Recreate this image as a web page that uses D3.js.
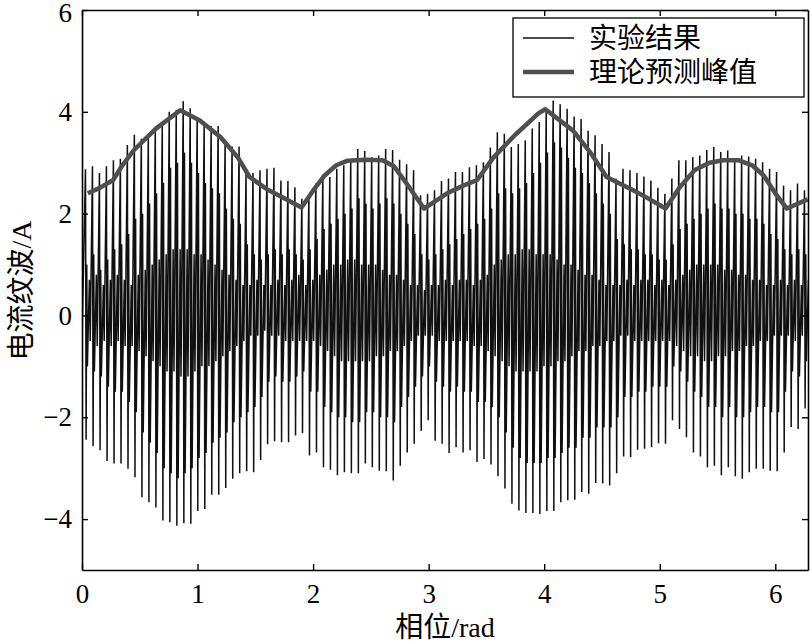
<!DOCTYPE html>
<html>
<head>
<meta charset="utf-8">
<script src="https://cdn.jsdelivr.net/npm/d3@7"></script>
<style>
  html, body { margin: 0; padding: 0; background: #fff; }
  svg { display: block; }
</style>
</head>
<body>
<svg id="chart" width="810" height="643"></svg>
<script>
// ---------------- data ----------------
// Per switching cycle of the measured current ripple (A):
// main positive peak, main negative peak, the adjacent secondary peaks,
// and the small excursion between two main spikes.
const ripplePeakHigh = [
  2.87, 2.93, 2.80, 2.93, 3.05, 3.08, 3.35, 3.55, 3.47, 3.52,
  3.68, 3.78, 4.00, 4.03, 4.21, 4.07, 3.90, 3.80, 3.72, 3.72,
  3.40, 3.32, 3.32, 2.80, 2.80, 2.85, 2.88, 2.90, 2.65, 2.64,
  2.52, 2.29, 2.36, 2.59, 2.75, 2.72, 2.88, 2.95, 3.05, 3.27,
  3.23, 3.11, 3.14, 3.27, 3.25, 3.06, 2.97, 2.85, 2.36, 2.39,
  2.46, 2.64, 2.69, 2.82, 2.82, 2.91, 2.95, 3.01, 3.30, 3.60,
  3.57, 3.31, 3.37, 3.44, 3.67, 3.80, 4.03, 4.22, 4.15, 4.06,
  3.91, 3.86, 3.63, 3.54, 3.37, 3.21, 2.69, 2.88, 2.85, 2.80,
  2.73, 2.65, 2.51, 2.39, 2.69, 3.05, 3.05, 3.11, 3.14, 3.25,
  3.31, 3.21, 3.24, 3.05, 3.14, 3.12, 3.08, 3.01, 2.88, 2.82,
  2.55, 2.46, 2.59, 2.46
];
const ripplePeakLow = [
  -2.44, -2.57, -2.65, -2.86, -2.91, -2.91, -3.01, -3.18, -3.57, -3.67,
  -3.77, -4.03, -4.06, -4.13, -4.08, -4.09, -3.84, -3.80, -3.52, -3.52,
  -3.39, -3.21, -3.10, -3.06, -3.08, -2.84, -2.53, -2.47, -2.49, -2.49,
  -2.36, -2.31, -2.75, -2.69, -2.98, -3.03, -3.14, -3.08, -3.10, -3.10,
  -2.91, -2.98, -3.05, -3.06, -3.24, -2.95, -2.69, -2.52, -2.27, -2.06,
  -2.46, -2.52, -2.70, -2.59, -2.69, -2.65, -2.88, -2.82, -2.93, -3.16,
  -3.40, -3.70, -3.83, -3.88, -3.88, -3.90, -3.84, -3.84, -3.67, -3.63,
  -3.62, -3.47, -3.50, -3.29, -3.30, -3.34, -3.10, -2.77, -2.78, -2.64,
  -2.62, -2.59, -2.51, -2.52, -2.06, -2.23, -2.39, -2.69, -2.77, -2.98,
  -2.95, -3.14, -2.98, -3.16, -3.21, -3.08, -3.01, -3.01, -3.05, -3.06,
  -2.69, -2.19, -2.23, -1.83
];
const rippleInnerHigh = [
  1.0, 1.2, 0.9, 1.1, 1.3, 1.4, 1.6, 1.9, 2.0, 2.2,
  2.4, 2.6, 2.9, 3.0, 3.2, 3.0, 2.8, 2.6, 2.5, 2.4,
  2.1, 1.9, 1.8, 1.4, 1.2, 1.1, 1.2, 1.3, 1.2, 1.3,
  1.2, 1.1, 1.3, 1.5, 1.7, 1.8, 1.9, 2.0, 2.1, 2.3,
  2.2, 2.1, 2.2, 2.3, 2.2, 2.0, 1.8, 1.6, 1.2, 1.1,
  1.2, 1.3, 1.4, 1.5, 1.6, 1.7, 1.8, 1.9, 2.1, 2.4,
  2.5, 2.4, 2.5, 2.6, 2.8, 3.0, 3.2, 3.4, 3.3, 3.1,
  2.9, 2.8, 2.6, 2.4, 2.2, 2.0, 1.5, 1.4, 1.3, 1.3,
  1.2, 1.2, 1.1, 1.1, 1.4, 1.7, 1.8, 1.9, 2.0, 2.1,
  2.2, 2.1, 2.1, 2.0, 2.0, 1.9, 1.9, 1.8, 1.6, 1.5,
  1.3, 1.2, 1.3, 1.2
];
const rippleInnerLow = [
  -1.0, -1.1, -1.2, -1.4, -1.5, -1.5, -1.7, -1.9, -2.3, -2.5,
  -2.7, -3.0, -3.1, -3.2, -3.1, -3.0, -2.8, -2.7, -2.5, -2.4,
  -2.3, -2.1, -2.0, -1.9, -1.8, -1.6, -1.3, -1.2, -1.3, -1.3,
  -1.2, -1.1, -1.5, -1.5, -1.8, -1.9, -2.0, -2.0, -2.1, -2.1,
  -1.9, -1.9, -2.0, -2.0, -2.1, -1.8, -1.6, -1.4, -1.2, -1.0,
  -1.3, -1.4, -1.5, -1.4, -1.5, -1.5, -1.7, -1.7, -1.8, -2.0,
  -2.3, -2.6, -2.8, -2.9, -2.9, -2.9, -2.8, -2.8, -2.7, -2.6,
  -2.6, -2.4, -2.4, -2.2, -2.2, -2.2, -2.0, -1.6, -1.6, -1.5,
  -1.5, -1.4, -1.4, -1.4, -1.0, -1.1, -1.3, -1.5, -1.6, -1.8,
  -1.8, -2.0, -1.8, -2.0, -2.0, -1.9, -1.8, -1.8, -1.9, -1.9,
  -1.5, -1.1, -1.2, -0.9
];
const rippleMidHigh = [
  0.7, 0.8, 0.6, 0.7, 0.8, 0.7, 0.6, 0.8, 0.9, 1.0,
  1.1, 1.2, 1.3, 1.3, 1.3, 1.2, 1.2, 1.1, 1.0, 0.9,
  0.8, 0.7, 0.6, 0.6, 0.7, 0.6, 0.6, 0.7, 0.6, 0.7,
  0.8, 0.6, 0.7, 0.8, 0.9, 1.0, 1.0, 1.1, 1.1, 1.0,
  1.0, 1.0, 0.9, 0.8, 0.8, 0.7, 0.6, 0.6, 0.5, 0.6,
  0.6, 0.7, 0.6, 0.7, 0.7, 0.6, 0.7, 0.8, 1.0, 1.1,
  1.2, 1.2, 1.3, 1.3, 1.2, 1.2, 1.2, 1.1, 1.0, 1.0,
  0.9, 0.8, 0.8, 0.7, 0.6, 0.6, 0.6, 0.7, 0.6, 0.7,
  0.7, 0.6, 0.7, 0.6, 0.7, 0.8, 0.9, 1.0, 1.0, 1.0,
  1.0, 0.9, 0.9, 0.8, 0.8, 0.7, 0.7, 0.6, 0.6, 0.7,
  0.6, 0.7, 0.6, 0.7
];
const rippleMidLow = [
  -0.5, -0.6, -0.5, -0.6, -0.5, -0.6, -0.6, -0.7, -0.8, -0.9,
  -1.0, -1.1, -1.1, -1.2, -1.2, -1.1, -1.0, -1.0, -0.9, -0.8,
  -0.7, -0.6, -0.5, -0.4, -0.4, -0.3, -0.4, -0.4, -0.5, -0.5,
  -0.5, -0.5, -0.5, -0.6, -0.7, -0.8, -0.9, -0.9, -0.9, -0.9,
  -0.9, -0.8, -0.8, -0.7, -0.7, -0.6, -0.5, -0.4, -0.4, -0.4,
  -0.5, -0.5, -0.5, -0.5, -0.5, -0.6, -0.6, -0.7, -0.8, -0.9,
  -1.0, -1.1, -1.1, -1.1, -1.1, -1.0, -1.0, -0.9, -0.9, -0.8,
  -0.7, -0.7, -0.6, -0.6, -0.5, -0.5, -0.4, -0.4, -0.5, -0.5,
  -0.5, -0.5, -0.5, -0.5, -0.6, -0.7, -0.8, -0.8, -0.9, -0.9,
  -0.8, -0.8, -0.7, -0.7, -0.6, -0.6, -0.5, -0.5, -0.4, -0.4,
  -0.4, -0.5, -0.4, -0.5
];
// Theoretical predicted peak envelope (phase in rad, current in A)
const theoryPhase = [0.05, 0.15, 0.27, 0.35, 0.45, 0.64, 0.85, 1.02, 1.20, 1.35,
  1.45, 1.60, 1.75, 1.90, 2.00, 2.10, 2.20, 2.30, 2.45, 2.60, 2.70, 2.80, 2.96,
  3.16, 3.30, 3.42, 3.56, 3.75, 3.95, 4.01, 4.25, 4.40, 4.54, 4.77, 4.90, 5.05,
  5.17, 5.30, 5.43, 5.55, 5.68, 5.80, 5.90, 6.00, 6.10, 6.28];
const theoryPeak = [2.40, 2.50, 2.66, 2.95, 3.25, 3.67, 4.03, 3.83, 3.50, 3.10,
  2.72, 2.48, 2.30, 2.12, 2.45, 2.75, 2.95, 3.04, 3.06, 3.05, 2.93, 2.62, 2.10,
  2.40, 2.55, 2.66, 3.10, 3.55, 3.97, 4.05, 3.63, 3.20, 2.72, 2.46, 2.30, 2.10,
  2.51, 2.85, 3.00, 3.05, 3.05, 2.95, 2.75, 2.40, 2.10, 2.28];

const xTicks = [0, 1, 2, 3, 4, 5, 6];
const yTicks = [-4, -2, 0, 2, 4, 6];
const legendLabels = ["实验结果", "理论预测峰值"];
const xTitle = "相位/rad";
const yTitle = "电流纹波/A";

// ---------------- drawing ----------------
const svg = d3.select("#chart");
const W = 810, H = 643;
const m = { left: 82, right: 2, top: 10, bottom: 73 };
const x = d3.scaleLinear().domain([0, 2 * Math.PI]).range([m.left, W - m.right]);
const y = d3.scaleLinear().domain([-5, 6]).range([H - m.bottom, m.top]);

svg.append("rect").attr("width", W).attr("height", H).attr("fill", "#fff");

const clipId = "plotclip";
svg.append("clipPath").attr("id", clipId).append("rect")
  .attr("x", m.left).attr("y", m.top)
  .attr("width", W - m.left - m.right).attr("height", H - m.top - m.bottom);

// measured ripple waveform, built from the per-cycle peaks
const N = ripplePeakHigh.length;
const P = 2 * Math.PI / N;
const pts = [[0, rippleMidLow[0]]];
for (let k = 0; k < N; k++) {
  const x0 = (k + 0.5) * P;
  pts.push([x0,             ripplePeakHigh[k]]);
  pts.push([x0 + 0.09 * P,  ripplePeakLow[k]]);
  pts.push([x0 + 0.18 * P,  rippleInnerHigh[k]]);
  pts.push([x0 + 0.27 * P,  rippleInnerLow[k]]);
  pts.push([x0 + 0.56 * P,  rippleMidHigh[k]]);
  pts.push([x0 + 0.68 * P,  rippleMidLow[k]]);
}
const line = d3.line().x(d => x(d[0])).y(d => y(d[1]));

svg.append("path")
  .attr("clip-path", `url(#${clipId})`)
  .attr("d", line(pts))
  .attr("fill", "none")
  .attr("stroke", "#101010")
  .attr("stroke-width", 1.5)
  .attr("stroke-linejoin", "miter")
  .attr("stroke-miterlimit", 2);

// theoretical envelope
const theory = theoryPhase.map((p, i) => [p, theoryPeak[i]]);
svg.append("path")
  .attr("clip-path", `url(#${clipId})`)
  .attr("d", line(theory))
  .attr("fill", "none")
  .attr("stroke", "#4f4f4f")
  .attr("stroke-width", 4.5)
  .attr("stroke-linejoin", "round");

// axes box with inward ticks
const axisG = svg.append("g");
const fontSerif = "'Liberation Serif', 'Times New Roman', serif";
const tickLen = 6;
const gBottom = axisG.append("g").attr("transform", `translate(0,${y(-5)})`)
  .call(d3.axisBottom(x).tickValues(xTicks).tickSizeInner(-tickLen).tickSizeOuter(0).tickPadding(14).tickFormat(d3.format("d")));
const gTop = axisG.append("g").attr("transform", `translate(0,${y(6)})`)
  .call(d3.axisTop(x).tickValues(xTicks).tickSizeInner(-tickLen).tickSizeOuter(0).tickFormat(""));
const gLeft = axisG.append("g").attr("transform", `translate(${x(0)},0)`)
  .call(d3.axisLeft(y).tickValues(yTicks).tickSizeInner(-tickLen).tickSizeOuter(0).tickPadding(10)
    .tickFormat(d => d < 0 ? "\u2212" + Math.abs(d) : String(d)));
const gRight = axisG.append("g").attr("transform", `translate(${x(2 * Math.PI)},0)`)
  .call(d3.axisRight(y).tickValues(yTicks).tickSizeInner(-tickLen).tickSizeOuter(0).tickFormat(""));

[gBottom, gTop, gLeft, gRight].forEach(g => {
  g.select(".domain").attr("stroke", "#000").attr("stroke-width", 1.6);
  g.selectAll(".tick line").attr("stroke", "#000").attr("stroke-width", 1.4);
  g.selectAll("text").attr("fill", "#000").style("font-family", fontSerif).style("font-size", "27px");
});
// keep the top label "6" inside the picture
gLeft.selectAll(".tick").filter(d => d === 6).select("text").attr("dy", "0.42em");

// axis titles
svg.append("text")
  .attr("x", x(Math.PI)).attr("y", 637)
  .attr("text-anchor", "middle")
  .style("font-family", "'Liberation Serif', 'Noto Sans CJK SC', serif")
  .style("font-size", "28px")
  .text(xTitle);
svg.append("text")
  .attr("transform", `translate(31,${y(0) - 25}) rotate(-90)`)
  .attr("text-anchor", "middle")
  .style("font-family", "'Liberation Serif', 'Noto Sans CJK SC', serif")
  .style("font-size", "28px")
  .text(yTitle);

// legend
const lg = svg.append("g");
lg.append("rect").attr("x", 513).attr("y", 18).attr("width", 291).attr("height", 79)
  .attr("fill", "#fff").attr("stroke", "#000").attr("stroke-width", 1.3);
const legendStyles = [
  { stroke: "#101010", width: 1.5 },
  { stroke: "#4f4f4f", width: 4.5 }
];
legendLabels.forEach((lab, i) => {
  const ly = 38 + i * 34;
  lg.append("line").attr("x1", 523).attr("x2", 574).attr("y1", ly).attr("y2", ly)
    .attr("stroke", legendStyles[i].stroke).attr("stroke-width", legendStyles[i].width);
  lg.append("text").attr("x", 589).attr("y", ly + 10)
    .style("font-family", "'Noto Sans CJK SC', sans-serif")
    .style("font-size", "28px")
    .text(lab);
});
</script>
</body>
</html>
